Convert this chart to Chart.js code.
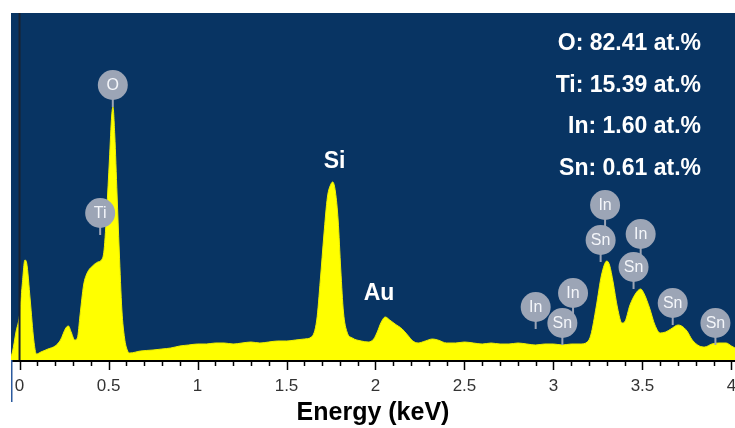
<!DOCTYPE html>
<html>
<head>
<meta charset="utf-8">
<script src="https://cdn.jsdelivr.net/npm/chart.js@4.4.1/dist/chart.umd.min.js"></script>
<style>
  html, body { margin: 0; padding: 0; background: #ffffff; }
  #wrap { position: relative; width: 735px; height: 428px; }
</style>
</head>
<body>
<div id="wrap"><canvas id="c"></canvas></div>
<script>
// ---- Data ----
const energies = [
  -0.05, -0.04, -0.02, 0.0, 0.015, 0.03, 0.04, 0.06, 0.08, 0.095,
  0.12, 0.16, 0.2, 0.23, 0.26, 0.275, 0.29, 0.31, 0.325, 0.34,
  0.36, 0.38, 0.41, 0.44, 0.46, 0.475, 0.49, 0.505, 0.518, 0.525,
  0.535, 0.548, 0.56, 0.575, 0.59, 0.605, 0.62, 0.68, 0.75, 0.8,
  0.85, 0.9, 0.95, 1.0, 1.05, 1.1, 1.15, 1.2, 1.25, 1.3,
  1.35, 1.4, 1.45, 1.5, 1.55, 1.6, 1.64, 1.67, 1.69, 1.71,
  1.73, 1.75, 1.76, 1.775, 1.79, 1.805, 1.82, 1.84, 1.87, 1.92,
  1.96, 1.99, 2.01, 2.03, 2.055, 2.08, 2.11, 2.15, 2.18, 2.21,
  2.24, 2.28, 2.32, 2.35, 2.4, 2.45, 2.5, 2.55, 2.6, 2.65,
  2.7, 2.75, 2.8, 2.85, 2.9, 2.95, 3.0, 3.05, 3.1, 3.15,
  3.19, 3.21, 3.24, 3.27, 3.3, 3.315, 3.335, 3.36, 3.385, 3.4,
  3.43, 3.46, 3.49, 3.51, 3.54, 3.57, 3.6, 3.63, 3.66, 3.7,
  3.72, 3.75, 3.78, 3.82, 3.85, 3.89, 3.93, 3.97, 4.0, 4.02
];
const counts = [
  3, 8, 28, 45, 75, 100, 97, 60, 20, 6,
  8, 11, 14, 20, 32, 34, 28, 20, 22, 45,
  75, 87, 94, 98, 100, 110, 150, 200, 245, 253,
  225, 165, 110, 50, 22, 10, 7, 9, 10, 11,
  12, 14, 15, 16, 16, 17, 17, 16, 17, 18,
  17, 18, 19, 19, 20, 21, 23, 40, 80, 125,
  163, 176, 178, 168, 140, 90, 48, 28, 22, 19,
  18, 21, 28, 37, 43, 40, 36, 31, 25, 19,
  17, 19, 21, 20, 17, 17, 18, 17, 16, 17,
  16, 16, 17, 16, 15, 16, 16, 15, 16, 16,
  18, 25, 53, 85, 99, 95, 78, 52, 37, 38,
  55, 66, 71, 66, 52, 35, 27, 28, 31, 35,
  34, 29, 20, 14, 13, 16, 17, 17, 14, 12
];

// element markers (label, energy, marker centre height in counts)
const markerLabels   = ['O', 'Ti', 'In', 'Sn', 'In', 'Sn', 'In', 'Sn', 'In', 'Sn', 'Sn'];
const markerEnergies = [0.524, 0.453, 3.29, 3.265, 3.49, 3.45, 2.90, 3.05, 3.11, 3.67, 3.91];
const markerHeights  = [275, 147, 155, 120, 126, 93, 53, 37, 67, 57, 37];

// peak labels
const peakLabels   = ['Si', 'Au'];
const peakEnergies = [1.77, 2.02];
const peakHeights  = [198, 66];

// composition
const compositionLines = ['O: 82.41 at.%', 'Ti: 15.39 at.%', 'In: 1.60 at.%', 'Sn: 0.61 at.%'];

const xMin = -0.048, xMax = 4.02, yMax = 347;
const tickStep = 0.5, minorStep = 0.1;

const BLUE = '#083463';
const YELLOW = '#ffff00';
const MARKER = '#9ca5b6';

const bgPlugin = {
  id: 'bg',
  beforeDatasetsDraw(chart) {
    const { ctx, chartArea: a } = chart;
    ctx.save();
    ctx.fillStyle = BLUE;
    ctx.fillRect(a.left, a.top, a.right - a.left, a.bottom - a.top);
    ctx.restore();
  }
};

const overlayPlugin = {
  id: 'overlay',
  afterDraw(chart) {
    const { ctx, chartArea: a } = chart;
    const xs = chart.scales.x, ys = chart.scales.y;
    ctx.save();
    // zero line
    const x0 = xs.getPixelForValue(0);
    ctx.strokeStyle = '#1a2230';
    ctx.lineWidth = 2;
    ctx.beginPath(); ctx.moveTo(x0, a.top); ctx.lineTo(x0, a.bottom); ctx.stroke();
    // axis line
    ctx.strokeStyle = '#000';
    ctx.lineWidth = 2;
    ctx.beginPath(); ctx.moveTo(a.left, a.bottom + 1); ctx.lineTo(a.right, a.bottom + 1); ctx.stroke();
    // ticks
    ctx.lineWidth = 1.5;
    for (let i = 0; i <= Math.round(4 / minorStep); i++) {
      const v = i * minorStep;
      const px = Math.round(xs.getPixelForValue(v)) + 0.5;
      const major = (i % 5) === 0;
      ctx.beginPath(); ctx.moveTo(px, a.bottom + 1); ctx.lineTo(px, a.bottom + (major ? 10 : 6)); ctx.stroke();
    }
    // left blue edge below the plot
    ctx.strokeStyle = '#2b5a9e';
    ctx.lineWidth = 1.5;
    ctx.beginPath(); ctx.moveTo(a.left + 0.75, a.bottom); ctx.lineTo(a.left + 0.75, a.bottom + 42); ctx.stroke();

    // element markers: stems
    ctx.strokeStyle = MARKER;
    ctx.lineWidth = 2;
    markerLabels.forEach((l, i) => {
      const cx = xs.getPixelForValue(markerEnergies[i]);
      const cy = ys.getPixelForValue(markerHeights[i]);
      ctx.beginPath(); ctx.moveTo(cx, cy); ctx.lineTo(cx, cy + 22); ctx.stroke();
    });
    // circles + text
    markerLabels.forEach((l, i) => {
      const cx = xs.getPixelForValue(markerEnergies[i]);
      const cy = ys.getPixelForValue(markerHeights[i]);
      ctx.fillStyle = MARKER;
      ctx.beginPath(); ctx.arc(cx, cy, 15, 0, Math.PI * 2); ctx.fill();
      ctx.fillStyle = '#f4f6fa';
      ctx.font = '16px "Liberation Sans", Arial, sans-serif';
      ctx.textAlign = 'center';
      ctx.textBaseline = 'middle';
      ctx.fillText(l, cx, cy + 1);
    });

    // peak labels
    ctx.fillStyle = '#ffffff';
    ctx.font = 'bold 23px "Liberation Sans", Arial, sans-serif';
    ctx.textAlign = 'center';
    ctx.textBaseline = 'middle';
    peakLabels.forEach((l, i) => {
      ctx.fillText(l, xs.getPixelForValue(peakEnergies[i]), ys.getPixelForValue(peakHeights[i]));
    });

    // composition text
    ctx.textAlign = 'right';
    compositionLines.forEach((t, i) => {
      ctx.fillText(t, a.right - 34, a.top + 31 + i * 41.5);
    });
    ctx.restore();
  }
};

const points = energies.map((e, i) => ({ x: e, y: counts[i] }));

new Chart(document.getElementById('c'), {
  type: 'line',
  data: {
    datasets: [{
      data: points,
      backgroundColor: YELLOW,
      borderColor: '#f0f000',
      borderWidth: 1,
      fill: 'origin',
      pointRadius: 0,
      cubicInterpolationMode: 'monotone',
      tension: 0.4
    }]
  },
  options: {
    responsive: true,
    maintainAspectRatio: false,
    animation: false,
    layout: { padding: { top: 13, left: 11, right: 0, bottom: 0 } },
    plugins: { legend: { display: false }, tooltip: { enabled: false } },
    scales: {
      x: {
        type: 'linear',
        min: xMin,
        max: xMax,
        grid: { display: false, drawTicks: false },
        border: { display: false },
        ticks: {
          stepSize: tickStep,
          includeBounds: false,
          padding: 16,
          color: '#333333',
          font: { family: '"Liberation Sans", Arial, sans-serif', size: 17 },
          maxRotation: 0,
          autoSkip: false,
          callback: (v) => String(Number(Number(v).toFixed(1)))
        },
        title: {
          display: true,
          text: 'Energy (keV)',
          color: '#000000',
          font: { family: '"Liberation Sans", Arial, sans-serif', size: 25, weight: 'bold' },
          padding: { top: 0, bottom: 0 }
        },
        afterFit(scale) {
          scale.height = 68;
          scale.paddingLeft = 0;
          scale.paddingRight = 0;
        }
      },
      y: {
        display: false,
        min: 0,
        max: yMax
      }
    }
  },
  plugins: [bgPlugin, overlayPlugin]
});
</script>
</body>
</html>
